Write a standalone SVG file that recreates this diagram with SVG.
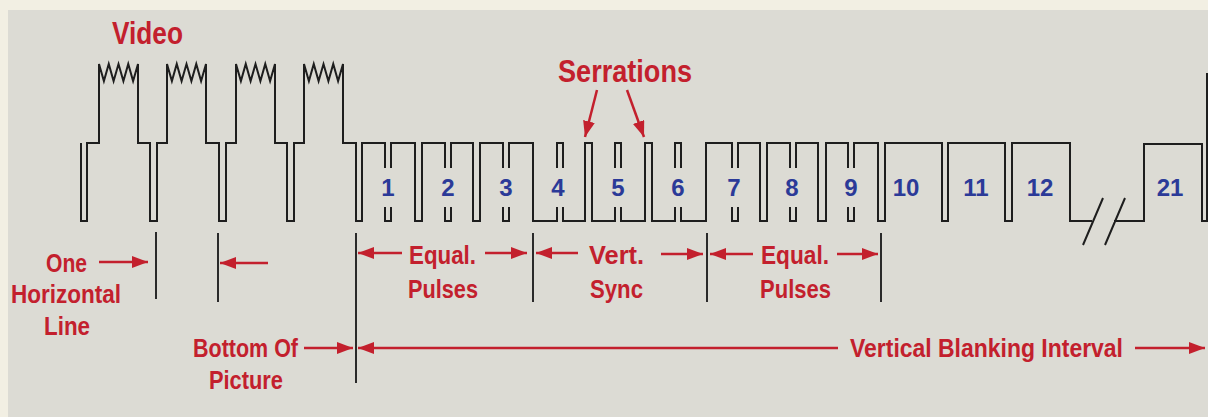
<svg xmlns="http://www.w3.org/2000/svg" width="1208" height="417" viewBox="0 0 1208 417">
<defs>
<style>
.wave{fill:none;stroke:#1e1e1e;stroke-width:2;stroke-linejoin:miter}
.div{stroke:#2a2a2a;stroke-width:2}
.arr{stroke:#c3202d;stroke-width:2.5;fill:none}
.red{font-family:"Liberation Sans",Arial,sans-serif;font-weight:bold;fill:#c3202d;font-size:26px}
.big{font-size:31px}
.num{font-family:"Liberation Sans",Arial,sans-serif;font-weight:bold;fill:#2b3a98;font-size:24px;text-anchor:middle}
</style>
<marker id="ah" markerUnits="userSpaceOnUse" markerWidth="16" markerHeight="12" refX="16" refY="6" orient="auto">
<path d="M0,0 L16,6 L0,12 z" fill="#c3202d"/>
</marker>
</defs>
<rect x="0" y="0" width="1208" height="417" fill="#f2efe3"/>
<rect x="8" y="10" width="1200" height="407" fill="#dcdbd4"/>

<g id="waveform">
<path class="wave" d="M81,143 V221 H87 V143 H99 V64 L103.9,81 L108.75,64 L113.6,81 L118.5,64 L123.4,81 L128.25,64 L133.1,81 L138,64 V143 H150 V221 H157 V143 H167 V64 L171.9,81 L176.75,64 L181.6,81 L186.5,64 L191.4,81 L196.25,64 L201.1,81 L206,64 V143 H219 V221 H226 V143 H236 V64 L240.9,81 L245.75,64 L250.6,81 L255.5,64 L260.4,81 L265.25,64 L270.1,81 L275,64 V143 H287 V221 H294 V143 H304 V64 L308.9,81 L313.75,64 L318.6,81 L323.5,64 L328.4,81 L333.25,64 L338.1,81 L343,64 V143 H356 V221 H362 V143 H385 V168
M391,168 V143 H415 V221 H422 V143 H445 V168
M451,168 V143 H473 V221 H480 V143 H503 V168
M509,168 V143 H533 V221 H557 V207
M563,207 V221 H585 V143 H592 V221 H615 V207
M621,207 V221 H645 V143 H652 V221 H675 V207
M681,207 V221 H706 V143 H732 V168
M738,168 V143 H760 V221 H767 V143 H790 V168
M796,168 V143 H818 V221 H826 V143 H848 V168
M854,168 V143 H878 V221 H885 V143 H942 V221 H948 V143 H1005 V221 H1012 V143 H1070 V221 H1092
M1114,221 H1144 V144 H1202 V221 H1207 V73
M385,207 V221 H391 V207 M445,207 V221 H451 V207 M503,207 V221 H509 V207
M557,168 V143 H563 V168 M615,168 V143 H621 V168 M675,168 V143 H681 V168
M732,207 V221 H738 V207 M790,207 V221 H796 V207 M848,207 V221 H854 V207
M1083,245 L1103,198 M1105,245 L1125,198"/>
</g>

<g id="numbers">
<text class="num" x="388" y="196">1</text>
<text class="num" x="448" y="196">2</text>
<text class="num" x="506" y="196">3</text>
<text class="num" x="558" y="196">4</text>
<text class="num" x="618" y="196">5</text>
<text class="num" x="678" y="196">6</text>
<text class="num" x="734" y="196">7</text>
<text class="num" x="792" y="196">8</text>
<text class="num" x="851" y="196">9</text>
<text class="num" x="906" y="196">10</text>
<text class="num" x="976" y="196">11</text>
<text class="num" x="1040" y="196">12</text>
<text class="num" x="1170" y="196">21</text>
</g>

<g id="dividers">
<line class="div" x1="156" y1="232" x2="156" y2="299"/>
<line class="div" x1="218" y1="233" x2="218" y2="302"/>
<line class="div" x1="356" y1="233" x2="356" y2="383"/>
<line class="div" x1="533" y1="233" x2="533" y2="302"/>
<line class="div" x1="707" y1="233" x2="707" y2="302"/>
<line class="div" x1="881" y1="233" x2="881" y2="302"/>
</g>

<g id="connectors">
<line class="arr" x1="597" y1="90" x2="585" y2="137" marker-end="url(#ah)"/>
<line class="arr" x1="627" y1="90" x2="644" y2="137" marker-end="url(#ah)"/>
<line class="arr" x1="99" y1="262" x2="148" y2="262" marker-end="url(#ah)"/>
<line class="arr" x1="268" y1="263" x2="220" y2="263" marker-end="url(#ah)"/>
<line class="arr" x1="304" y1="348" x2="353" y2="348" marker-end="url(#ah)"/>
<line class="arr" x1="838" y1="348" x2="358" y2="348" marker-end="url(#ah)"/>
<line class="arr" x1="1135" y1="348" x2="1205" y2="348" marker-end="url(#ah)"/>
<line class="arr" x1="402" y1="253" x2="358" y2="253" marker-end="url(#ah)"/>
<line class="arr" x1="485" y1="253" x2="527" y2="253" marker-end="url(#ah)"/>
<line class="arr" x1="578" y1="253" x2="536" y2="253" marker-end="url(#ah)"/>
<line class="arr" x1="661" y1="254" x2="703" y2="254" marker-end="url(#ah)"/>
<line class="arr" x1="753" y1="254" x2="710" y2="254" marker-end="url(#ah)"/>
<line class="arr" x1="837" y1="254" x2="878" y2="254" marker-end="url(#ah)"/>
</g>

<g id="labels">
<text class="red big" x="112" y="44" textLength="71" lengthAdjust="spacingAndGlyphs">Video</text>
<text class="red big" x="558" y="82" textLength="134" lengthAdjust="spacingAndGlyphs">Serrations</text>
<text class="red" x="46" y="272" textLength="41" lengthAdjust="spacingAndGlyphs">One</text>
<text class="red" x="11" y="303" textLength="110" lengthAdjust="spacingAndGlyphs">Horizontal</text>
<text class="red" x="44" y="335" textLength="46" lengthAdjust="spacingAndGlyphs">Line</text>
<text class="red" x="193" y="357" textLength="105" lengthAdjust="spacingAndGlyphs">Bottom Of</text>
<text class="red" x="209" y="389" textLength="74" lengthAdjust="spacingAndGlyphs">Picture</text>
<text class="red" x="409" y="264" textLength="67" lengthAdjust="spacingAndGlyphs">Equal.</text>
<text class="red" x="408" y="298" textLength="70" lengthAdjust="spacingAndGlyphs">Pulses</text>
<text class="red" x="589" y="264" textLength="55" lengthAdjust="spacingAndGlyphs">Vert.</text>
<text class="red" x="590" y="298" textLength="53" lengthAdjust="spacingAndGlyphs">Sync</text>
<text class="red" x="761" y="264" textLength="68" lengthAdjust="spacingAndGlyphs">Equal.</text>
<text class="red" x="760" y="298" textLength="71" lengthAdjust="spacingAndGlyphs">Pulses</text>
<text class="red" x="850" y="357" textLength="273" lengthAdjust="spacingAndGlyphs">Vertical Blanking Interval</text>
</g>
</svg>
